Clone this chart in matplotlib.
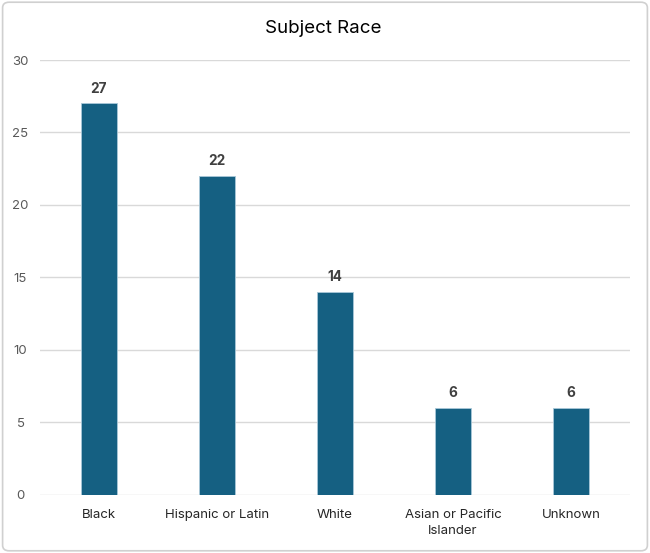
import matplotlib.pyplot as plt
from matplotlib.patches import FancyBboxPatch
import numpy as np

# Data
races = ["Black", "Hispanic or Latin", "White", "Asian or Pacific\nIslander", "Unknown"]
counts = [27, 22, 14, 6, 6]
y_ticks = [0, 5, 10, 15, 20, 25, 30]

plt.rcParams['font.family'] = ['Inter', 'DejaVu Sans']

fig = plt.figure(figsize=(6.5, 5.53), dpi=100)
ax = fig.add_axes([0.0615, 0.1049, 0.9075, 0.7866])

# rounded border around the chart
fig.patches.append(FancyBboxPatch((0.004, 0.004), 0.992, 0.992, boxstyle="round,pad=0,rounding_size=0.01",
                                  transform=fig.transFigure, fill=False, edgecolor='#D0D0D0', linewidth=1.2))

x = np.arange(len(races))
bars = ax.bar(x, counts, width=0.31, color='#156082', edgecolor='#A9C8D8', linewidth=0.6, zorder=3)

for xi, v in zip(x, counts):
    ax.text(xi, v + 0.55, str(v), ha='center', va='bottom', fontsize=9.8,
            fontweight='bold', color='#404040')

ax.set_xlim(-0.5, len(races) - 0.5)
ax.set_ylim(0, 30)
ax.set_yticks(y_ticks)
ax.set_xticks(x)
ax.set_xticklabels(races, linespacing=1.45)
ax.grid(axis='y', color='#D9D9D9', linewidth=1, zorder=0)
for s in ax.spines.values():
    s.set_visible(False)
ax.tick_params(axis='both', length=0, labelsize=9.5, labelcolor='#595959')
ax.tick_params(axis='x', labelcolor='#262626', pad=10)
ax.tick_params(axis='y', pad=14)
for lbl in ax.get_yticklabels():
    lbl.set_horizontalalignment('center')

fig.suptitle("Subject Race", x=0.497, y=0.963, fontsize=13.5, color='#000000')

plt.savefig('out.png', dpi=100)
